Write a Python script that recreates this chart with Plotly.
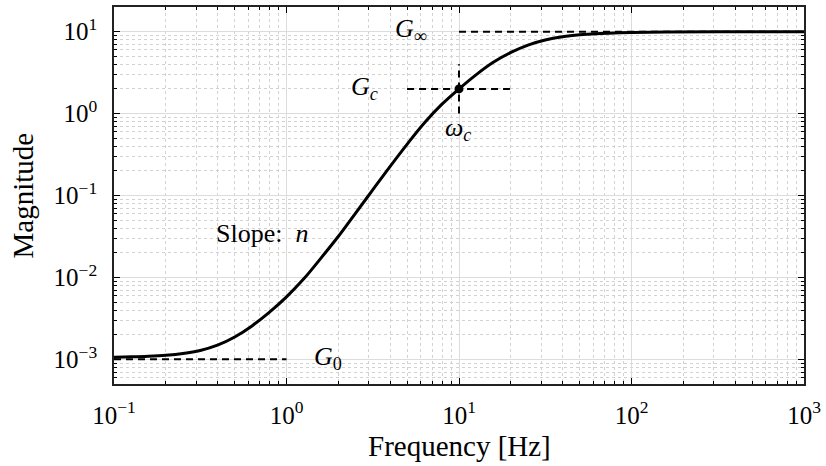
import plotly.graph_objects as go
import numpy as np

# curve
freq = [0.1, 0.126, 0.158, 0.2, 0.251, 0.316, 0.398, 0.501, 0.631, 0.794,
        1.0, 1.26, 1.58, 2.0, 2.51, 3.16, 3.98, 5.01, 6.31, 7.94,
        10.0, 12.6, 15.8, 20.0, 25.1, 31.6, 39.8, 50.1, 63.1, 79.4,
        100.0, 158.0, 316.0, 1000.0]
magnitude = [1.064e-3, 1.074e-3, 1.091e-3, 1.122e-3, 1.178e-3, 1.282e-3, 1.489e-3,
             1.875e-3, 2.559e-3, 3.741e-3,
             5.794e-3, 9.616e-3, 0.01710, 0.03184, 0.06067, 0.1169, 0.2254, 0.4246,
             0.7727, 1.294,
             2.0, 2.992, 4.227, 5.572, 6.855, 7.907, 8.670, 9.162, 9.462, 9.638,
             9.750, 9.886, 9.966, 10.0]

G0 = 1e-3
Ginf = 10.0
Gc = 2.0
wc = 10.0

g0_line_x = [0.1, 1.0]
ginf_line_x = [10.0, 1000.0]
gc_line_x = [5.0, 20.0]
wc_line_y = [1.0, 4.0]

x_ticks = [0.1, 1, 10, 100, 1000]
x_ticktext = ["10<sup>−1</sup>", "10<sup>0</sup>", "10<sup>1</sup>", "10<sup>2</sup>", "10<sup>3</sup>"]
y_ticks = [1e-3, 1e-2, 1e-1, 1, 10]
y_ticktext = ["10<sup>−3</sup>", "10<sup>−2</sup>", "10<sup>−1</sup>", "10<sup>0</sup>", "10<sup>1</sup>"]

FONT = "Liberation Serif"
dash = "7px,5px"

fig = go.Figure()
for xs, ys in [(g0_line_x, [G0, G0]), (ginf_line_x, [Ginf, Ginf]),
               (gc_line_x, [Gc, Gc]), ([wc, wc], wc_line_y)]:
    fig.add_trace(go.Scatter(x=xs, y=ys, mode="lines",
                             line=dict(color="black", width=2, dash=dash),
                             showlegend=False, hoverinfo="skip"))
fig.add_trace(go.Scatter(x=freq, y=magnitude, mode="lines", line_shape="spline",
                         line=dict(color="black", width=3), showlegend=False))
fig.add_trace(go.Scatter(x=[wc], y=[Gc], mode="markers",
                         marker=dict(color="black", size=9), showlegend=False))

def minors(lo, hi):
    out = []
    for e in range(lo, hi + 1):
        for m in range(2, 10):
            out.append(m * 10.0 ** e)
    return out

xminor = [v for v in minors(-1, 2) if 0.1 <= v <= 1000]
yminor = [v for v in ([5e-4, 6e-4, 7e-4, 8e-4, 9e-4] + minors(-3, 1)) if 5e-4 <= v <= 20]

grid_major = "#dcdcdc"
grid_minor = "#d2d2d2"
tickfont = dict(size=25, family=FONT, color="black")

common = dict(type="log", tickmode="array", ticks="inside", ticklen=6, tickwidth=1.2,
              tickcolor="black", showline=True, linecolor="#222222", linewidth=1.6,
              mirror="allticks", showgrid=True, gridcolor=grid_major, gridwidth=1,
              zeroline=False, tickfont=tickfont)
fig.update_xaxes(range=[-1, 3], tickvals=x_ticks, ticktext=x_ticktext,
                 ticklabelstandoff=8,
                 minor=dict(tickmode="array", tickvals=xminor, ticks="inside", ticklen=3,
                            tickcolor="black", showgrid=True, gridcolor=grid_minor,
                            griddash="dot", gridwidth=1),
                 **common)
fig.update_yaxes(range=[np.log10(5e-4), np.log10(20)], tickvals=y_ticks,
                 ticktext=y_ticktext, ticklabelstandoff=10,
                 minor=dict(tickmode="array", tickvals=yminor, ticks="inside", ticklen=3,
                            tickcolor="black", showgrid=True, gridcolor=grid_minor,
                            griddash="dot", gridwidth=1),
                 **common)

title_font = dict(size=29, family=FONT, color="black")
fig.add_annotation(xref="paper", yref="paper", x=0.5, y=-0.165, text="Frequency [Hz]",
                   showarrow=False, font=title_font, xanchor="center", yanchor="middle")
fig.add_annotation(xref="paper", yref="paper", x=-0.132, y=0.5, text="Magnitude",
                   showarrow=False, font=title_font, textangle=-90,
                   xanchor="center", yanchor="middle")

ann_font = dict(size=26, family=FONT, color="black")
annotations = [
    dict(x=0.7245, y=1.019, text="<i>G</i><sub>∞</sub>"),
    dict(x=0.453, y=0.318, text="<i>G<sub>c</sub></i>"),
    dict(x=0.995, y=-0.19, text="<i>ω<sub>c</sub></i>"),
    dict(x=-0.140, y=-1.46, text="Slope:  <i>n</i>"),
    dict(x=0.24, y=-2.98, text="<i>G</i><sub>0</sub>"),
]
for a in annotations:
    fig.add_annotation(xref="x", yref="y", showarrow=False, font=ann_font,
                       xanchor="center", yanchor="middle", **a)

fig.update_layout(width=826, height=466, margin=dict(l=114, r=18, t=5, b=82),
                  plot_bgcolor="white", paper_bgcolor="white")
fig.write_html("out.html", config={"displayModeBar": False},
               post_script="document.body.style.margin='0px';")
